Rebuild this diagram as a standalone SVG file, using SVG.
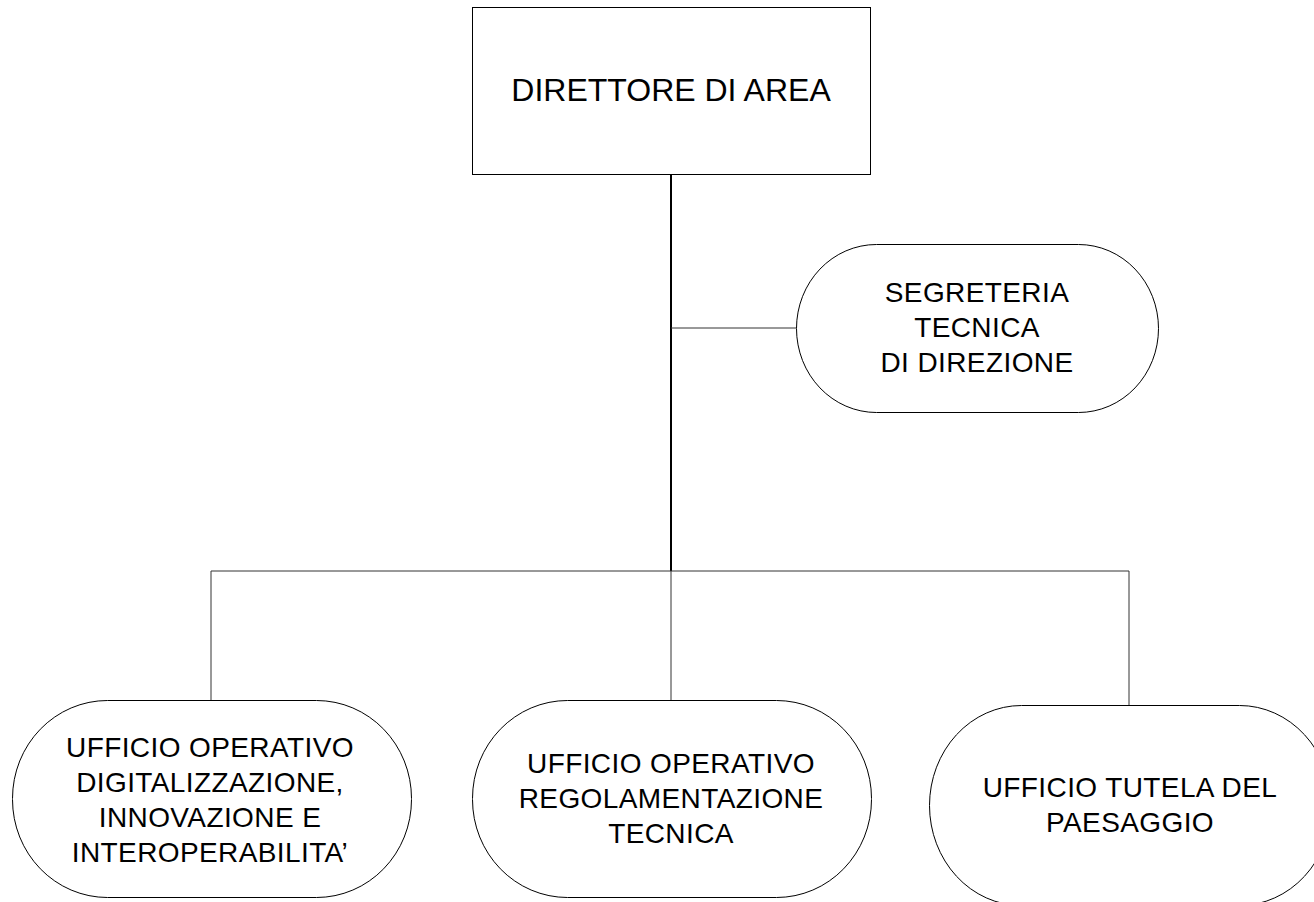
<svg xmlns="http://www.w3.org/2000/svg" width="1314" height="902" viewBox="0 0 1314 902">
<style>
.node{fill:#fff;stroke:#000;stroke-width:1}
.lbl{font-family:"Liberation Sans",Arial,sans-serif;font-size:28px;fill:#000;text-anchor:middle;letter-spacing:0.4px}
.big{font-size:32px;letter-spacing:0}
.conn{stroke:#333;stroke-width:1;fill:none}
.main{stroke:#000;stroke-width:2;fill:none}
</style>
<rect width="1314" height="902" fill="#fff"/>
<g id="connectors">
<line class="main" x1="671" y1="174" x2="671" y2="571"/>
<line class="conn" x1="671" y1="328" x2="796" y2="328"/>
<line class="conn" x1="211" y1="571" x2="1129" y2="571"/>
<line class="conn" x1="211" y1="571" x2="211" y2="700"/>
<line class="conn" x1="671" y1="571" x2="671" y2="700"/>
<line class="conn" x1="1129" y1="571" x2="1129" y2="705"/>
</g>
<g id="direttore">
<rect class="node" x="472.5" y="7.5" width="398" height="167"/>
<text class="lbl big" x="671" y="101">DIRETTORE DI AREA</text>
</g>
<g id="segreteria">
<rect class="node" x="796.5" y="244.5" width="362" height="168" rx="80" ry="84"/>
<text class="lbl" x="977" y="302">SEGRETERIA</text>
<text class="lbl" x="977" y="337">TECNICA</text>
<text class="lbl" x="977" y="372">DI DIREZIONE</text>
</g>
<g id="ufficio-digitalizzazione">
<rect class="node" x="12.5" y="700.5" width="399" height="197" rx="95" ry="98"/>
<text class="lbl" x="210" y="757">UFFICIO OPERATIVO</text>
<text class="lbl" x="210" y="792">DIGITALIZZAZIONE,</text>
<text class="lbl" x="210" y="827">INNOVAZIONE E</text>
<text class="lbl" x="210" y="862">INTEROPERABILITA’</text>
</g>
<g id="ufficio-regolamentazione">
<rect class="node" x="472.5" y="700.5" width="399" height="197" rx="95" ry="98"/>
<text class="lbl" x="671" y="773">UFFICIO OPERATIVO</text>
<text class="lbl" x="671" y="808">REGOLAMENTAZIONE</text>
<text class="lbl" x="671" y="843">TECNICA</text>
</g>
<g id="ufficio-paesaggio">
<rect class="node" x="929.5" y="705.5" width="402" height="200" rx="92" ry="100"/>
<text class="lbl" x="1130" y="797">UFFICIO TUTELA DEL</text>
<text class="lbl" x="1130" y="832">PAESAGGIO</text>
</g>
</svg>
